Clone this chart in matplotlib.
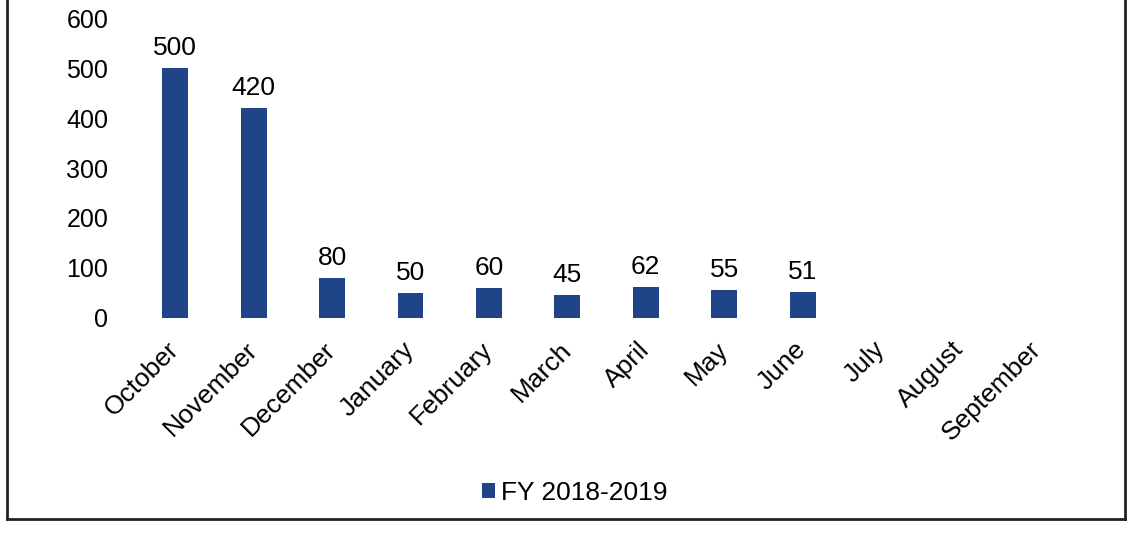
import matplotlib.pyplot as plt
from matplotlib.lines import Line2D

months = ["October", "November", "December", "January", "February", "March",
          "April", "May", "June", "July", "August", "September"]
values = [500, 420, 80, 50, 60, 45, 62, 55, 51, None, None, None]
series_name = "FY 2018-2019"
y_ticks = [0, 100, 200, 300, 400, 500, 600]

BAR_COLOR = "#1f4588"

plt.rcParams["font.family"] = ["Liberation Sans", "DejaVu Sans"]

fig = plt.figure(figsize=(11.27, 5.33), dpi=100)
ax = fig.add_axes([0.1207, 0.4034, 0.835, 0.5628])

xs = list(range(len(months)))
bar_x = [x for x, v in zip(xs, values) if v is not None]
bar_v = [v for v in values if v is not None]
bars = ax.bar(bar_x, bar_v, width=0.33, color=BAR_COLOR, label=series_name)

for x, v in zip(bar_x, bar_v):
    ax.annotate(str(v), (x, v), textcoords="offset points", xytext=(0, 6),
                ha="center", va="bottom", fontsize=19)

ax.set_xlim(-0.5, len(months) - 0.5)
ax.set_ylim(0, 600)
ax.set_yticks(y_ticks)
ax.set_xticks(xs)
ax.set_xticklabels(months, rotation=45, ha="right", va="center",
                   rotation_mode="anchor", fontsize=19)
ax.tick_params(axis="both", length=0)
ax.tick_params(axis="y", labelsize=18, pad=20)
ax.tick_params(axis="x", pad=20)
for s in ax.spines.values():
    s.set_visible(False)

fig.legend(handles=[bars], labels=[series_name], loc="center",
           bbox_to_anchor=(0.51, 0.075), frameon=False, fontsize=19,
           handlelength=0.5, handleheight=0.5, handletextpad=0.2)

# outer frame on left, right and bottom
frame_kw = dict(color="#222222", linewidth=2, transform=fig.transFigure)
fig.add_artist(Line2D([0.0062, 0.0062], [0.0263, 1.0], **frame_kw))
fig.add_artist(Line2D([0.9982, 0.9982], [0.0263, 1.0], **frame_kw))
fig.add_artist(Line2D([0.0062, 0.9982], [0.0263, 0.0263], **frame_kw))

fig.savefig("out.png", dpi=100)
